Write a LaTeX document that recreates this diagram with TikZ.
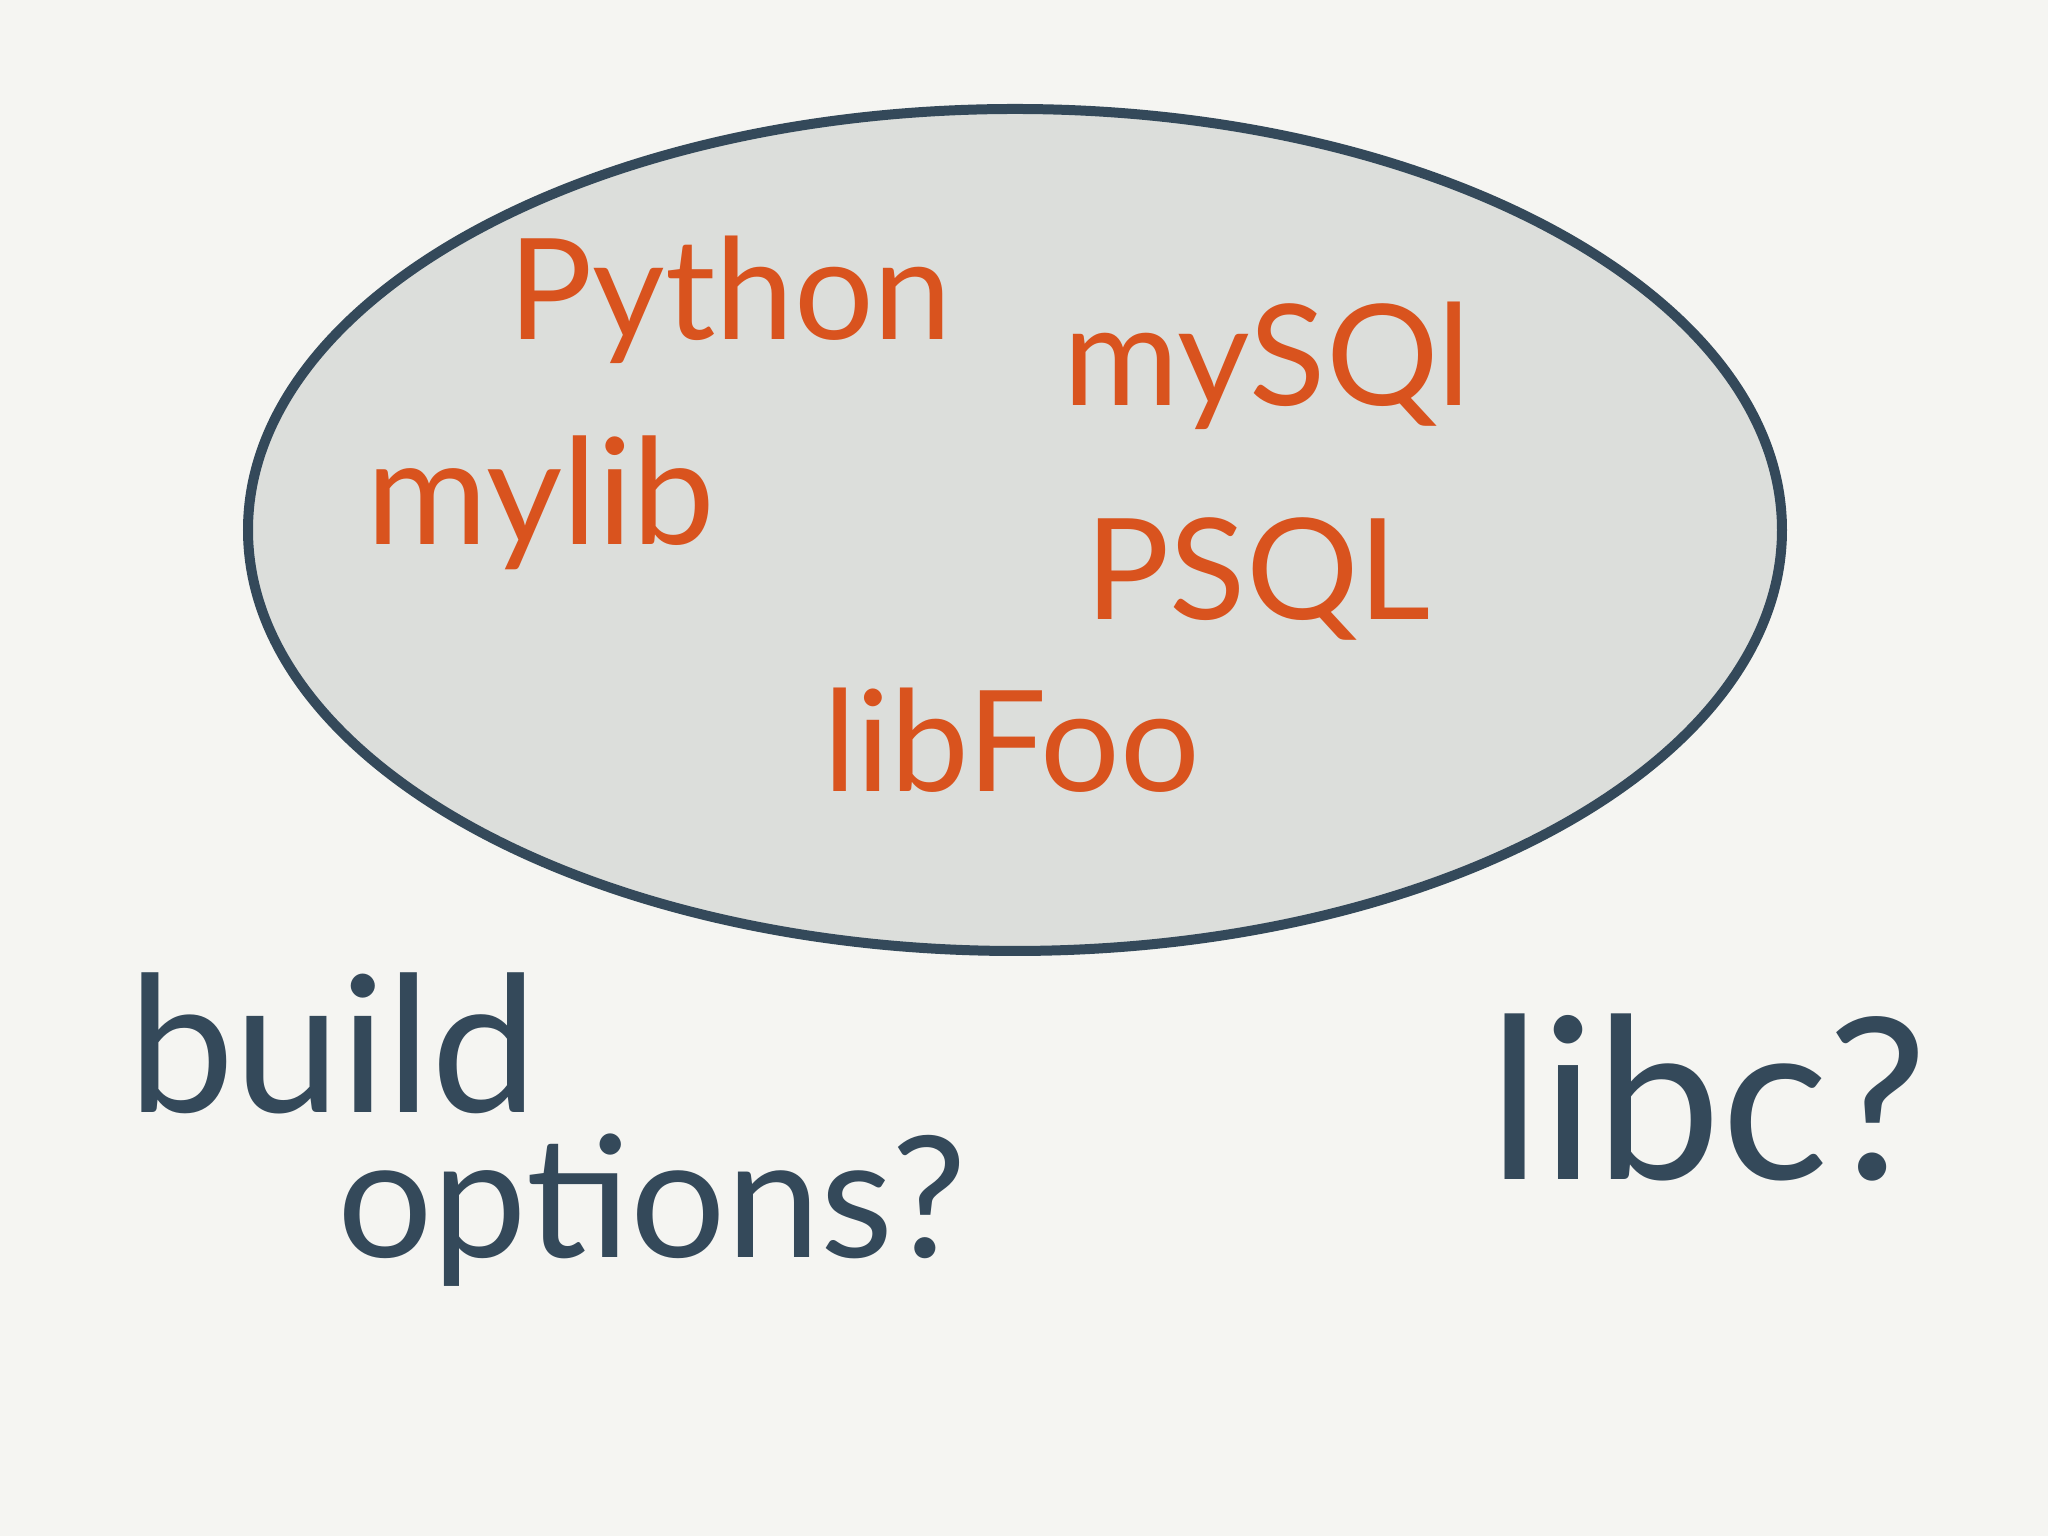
\documentclass[tikz,border=0pt]{standalone}
\usepackage{fontspec}
\setmainfont{Lato}
\usepackage{tikz}
\usetikzlibrary{shapes.geometric}
\usepackage{xcolor}
\definecolor{paper}{HTML}{F5F5F2}
\definecolor{blob}{HTML}{DCDEDB}
\definecolor{ink}{HTML}{34495A}
\definecolor{marker}{HTML}{D9531E}

\begin{document}
\begin{tikzpicture}[
    inlabel/.style={text=marker, font=\fontsize{40}{44}\selectfont, inner sep=0pt},
    outlabel/.style={text=ink, font=\fontsize{54}{60}\selectfont, inner sep=0pt}
]
% Paper sheet, fixes the size
\fill[paper] (0,0) rectangle (20.48,15.36);
\useasboundingbox (0,0) rectangle (20.48,15.36);

% The big grey blob
\node[ellipse, draw=ink, line width=0.1cm, fill=blob, inner sep=0pt,
      minimum width=15.34cm, minimum height=8.42cm] (env) at (10.15,10.06) {};

% What sits inside it
\node[inlabel] (python) at (7.30,12.36) {Python};
\node[inlabel] (mysql) at (12.67,11.70) {mySQl};
\node[inlabel, font=\fontsize{42}{46}\selectfont] (mylib) at (5.41,10.33) {mylib};
\node[inlabel] (psql) at (12.58,9.57) {PSQL};
\node[inlabel] (libfoo) at (10.12,7.96) {libFoo};

% Open questions below
\node[outlabel] (build) at (3.33,4.93) {build};
\node[outlabel, font=\fontsize{48}{54}\selectfont] (options) at (6.52,3.26) {options?};
\node[outlabel, font=\fontsize{64}{70}\selectfont] (libc) at (17.08,4.38) {libc?};
\end{tikzpicture}
\end{document}
